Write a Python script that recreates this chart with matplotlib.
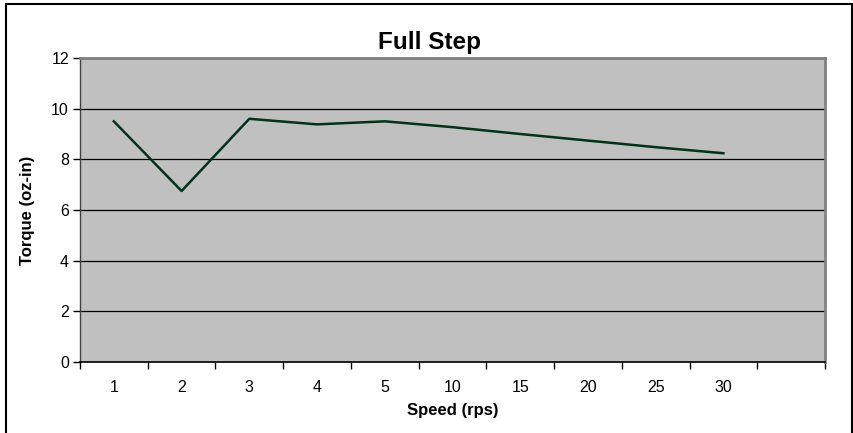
import numpy as np
import matplotlib
matplotlib.use("Agg")
import matplotlib.pyplot as plt
from matplotlib.patches import Rectangle

plt.rcParams['font.family'] = ['Liberation Sans', 'DejaVu Sans']

# data
speeds = ['1', '2', '3', '4', '5', '10', '15', '20', '25', '30']
torque = [9.5, 6.75, 9.6, 9.38, 9.5, 9.27, 9.0, 8.74, 8.48, 8.24]
n_slots = 11  # Excel leaves one empty category at the end

fig = plt.figure(figsize=(8.54, 4.33), dpi=100)
ax = fig.add_axes([80 / 854, (433 - 362) / 433, 745 / 854, 304 / 433])

ax.set_facecolor('#c0c0c0')
x = np.arange(len(speeds))
ax.plot(x, torque, color='#00331a', linewidth=1.8, zorder=3)

ax.set_xlim(-0.5, n_slots - 0.5)
ax.set_ylim(0, 12)
ax.set_yticks(np.arange(0, 13, 2))
ax.yaxis.grid(True, color='black', linewidth=0.9)
ax.set_axisbelow(True)

# category labels centered, tick marks on the boundaries
ax.set_xticks(x)
ax.set_xticklabels(speeds)
ax.set_xticks(np.arange(-0.5, n_slots, 1), minor=True)
ax.tick_params(axis='x', which='major', length=0, pad=13, labelsize=11.5)
ax.tick_params(axis='x', which='minor', length=5, width=1, direction='out', color='black')
ax.tick_params(axis='y', length=5, width=1, direction='out', pad=3, labelsize=11.5)

for s in ['top', 'right']:
    ax.spines[s].set_color('#808080')
    ax.spines[s].set_linewidth(2)
ax.spines['left'].set_color('#404040')
ax.spines['left'].set_linewidth(1)
ax.spines['bottom'].set_color('black')
ax.spines['bottom'].set_linewidth(1.2)

ax.set_xlabel('Speed (rps)', fontsize=12, fontweight='bold')
ax.xaxis.set_label_coords(0.5, -0.135)
ax.set_ylabel('Torque (oz-in)', fontsize=12, fontweight='bold')
ax.yaxis.set_label_coords(-0.060, 0.5)

fig.text(430 / 854, (433 - 43) / 433, 'Full Step', fontsize=17.5, fontweight='bold',
         ha='center', va='center')

# chart border
fig.patches.append(Rectangle((6 / 854, -0.05), 846 / 854, 1.05 - 4 / 433,
                             transform=fig.transFigure, fill=False,
                             edgecolor='black', linewidth=1.5))

fig.savefig('out.png', dpi=100)
